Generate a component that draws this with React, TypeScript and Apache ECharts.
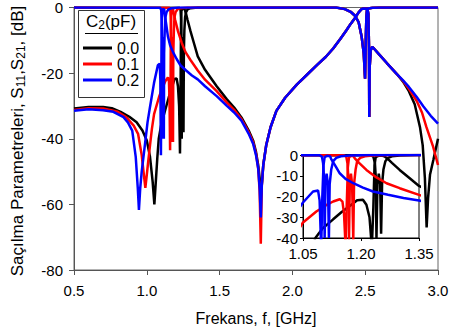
import React, { useEffect, useRef } from "react";
import * as echarts from "echarts";

type Pt = [number, number];

const FONT = "'Liberation Sans', Arial, sans-serif";

const capLabels = ["0.0", "0.1", "0.2"];
const capColors = ["#000000", "#ff0000", "#0000ff"];

// ---- S21 (transmission), per C2, low band and first passband ----
const s21C00Head: Pt[] = [
  [0.5, -30.8], [0.6, -30.3], [0.7, -30.3], [0.76, -30.7], [0.82, -31.8], [0.88, -33.3],
  [0.93, -35], [0.97, -37.5], [1.0, -40.5], [1.022, -45.5], [1.04, -53], [1.052, -60],
  [1.062, -53], [1.072, -46], [1.082, -40], [1.1, -35.5], [1.128, -31], [1.15, -27.5],
  [1.171, -24.6], [1.19, -21.8], [1.205, -21.6], [1.214, -24], [1.222, -30], [1.228, -44.5],
  [1.232, -25], [1.235, -5], [1.238, -1], [1.245, -0.4], [1.256, -0.4], [1.262, -0.8],
  [1.27, -2], [1.28, -3.8], [1.29, -5.5], [1.3, -7.2], [1.326, -11.2], [1.35, -14.9],
  [1.4, -19], [1.48, -24], [1.55, -28], [1.6, -30.5], [1.65, -33.5], [1.7, -37.5],
  [1.73, -40.5], [1.75, -44], [1.765, -48], [1.775, -52], [1.783, -58],
];
const s21C01Head: Pt[] = [
  [0.5, -31.2], [0.6, -30.7], [0.7, -30.8], [0.8, -31.8], [0.86, -33.5], [0.91, -36],
  [0.94, -38.5], [0.965, -45], [0.98, -51], [0.99, -55], [1.0, -51], [1.012, -46],
  [1.022, -42], [1.035, -37], [1.05, -32.5], [1.0845, -27.2], [1.11, -24.2], [1.128, -22.4],
  [1.145, -21.3], [1.152, -22.5], [1.156, -28], [1.16, -43.5], [1.163, -25], [1.166, -6],
  [1.169, -1], [1.175, -0.4], [1.18, -0.5], [1.184, -1.6], [1.195, -3.8], [1.214, -7.2],
  [1.24, -10.8], [1.266, -13.6], [1.3, -16], [1.35, -19.2], [1.4, -22], [1.48, -25.5],
  [1.55, -29], [1.6, -31.2], [1.65, -34], [1.7, -38], [1.73, -41], [1.75, -44.5],
  [1.765, -49], [1.775, -56], [1.783, -72],
];
const s21C02Head: Pt[] = [
  [0.5, -31.5], [0.6, -31], [0.7, -31.3], [0.77, -31.8], [0.84, -33.4], [0.87, -35],
  [0.9, -37.5], [0.924, -45.5], [0.938, -55], [0.946, -61.7], [0.955, -55], [0.965, -50],
  [0.988, -41.5], [1.005, -35], [1.022, -30.3], [1.05, -22.9], [1.076, -17.6], [1.089, -17.1],
  [1.093, -22], [1.097, -45], [1.1, -20], [1.103, -5], [1.106, -1], [1.112, -0.4],
  [1.12, -0.6], [1.123, -2], [1.133, -5], [1.145, -8.8], [1.16, -11.5], [1.18, -13.6],
  [1.205, -15.7], [1.231, -17.6], [1.27, -19.2], [1.31, -20.7], [1.35, -21.9], [1.4, -24],
  [1.48, -27], [1.55, -30], [1.6, -32], [1.65, -34.5], [1.7, -38.5], [1.73, -41.5],
  [1.75, -45], [1.765, -49], [1.775, -55], [1.783, -64],
];
// shared middle part (identical for all C2)
const s21Mid: Pt[] = [
  [1.79, -54], [1.8, -48], [1.82, -42], [1.85, -36.5], [1.89, -31.5], [1.95, -27.5],
  [2.03, -23.5], [2.1, -20.5], [2.17, -17.5], [2.23, -15], [2.28, -12.5], [2.33, -9.5],
  [2.37, -7], [2.4, -5], [2.43, -3.2], [2.455, -1.5], [2.475, -0.5], [2.49, -0.3],
  [2.515, -0.4], [2.522, -2], [2.526, -12], [2.528, -33.4], [2.531, -18], [2.538, -13],
  [2.548, -12], [2.56, -12.5], [2.6, -14.5], [2.65, -17], [2.716, -20.2],
];
const s21C00Tail: Pt[] = [
  [2.76, -22.6], [2.8, -25.5], [2.84, -29.5], [2.876, -36.4], [2.895, -42], [2.91, -52],
  [2.922, -67], [2.932, -58], [2.945, -51], [2.968, -46.5], [3.0, -40],
];
const s21C01Tail: Pt[] = [
  [2.76, -22.4], [2.8, -24.8], [2.854, -28.5], [2.89, -32], [2.92, -36.4], [2.967, -42.5], [3.0, -48],
];
const s21C02Tail: Pt[] = [
  [2.76, -22.2], [2.8, -24.2], [2.854, -27.3], [2.9, -30.2], [2.95, -33], [3.0, -35.4],
];

// ---- S11 (reflection) ----
const s11C00Band1: Pt[] = [
  [0.5, 0], [1.225, -0.1], [1.232, -0.8], [1.236, -4], [1.238, -10], [1.24, -40],
  [1.2425, -14], [1.246, -9], [1.2495, -14], [1.252, -38], [1.2545, -14], [1.258, -7],
  [1.263, -3], [1.27, -1.4], [1.28, -0.6], [1.3, -0.2], [1.35, 0],
];
const s11C01Band1: Pt[] = [
  [0.5, 0], [1.155, -0.1], [1.162, -0.8], [1.165, -4], [1.167, -10], [1.169, -41],
  [1.171, -14], [1.174, -9], [1.177, -14], [1.18, -41], [1.182, -14], [1.186, -7],
  [1.19, -3], [1.198, -1.4], [1.21, -0.6], [1.23, -0.2], [1.28, 0],
];
const s11C02Band1: Pt[] = [
  [0.5, 0], [1.092, -0.1], [1.099, -0.8], [1.102, -4], [1.104, -10], [1.106, -40],
  [1.108, -14], [1.111, -9], [1.1145, -14], [1.117, -40], [1.119, -14], [1.123, -7],
  [1.128, -3], [1.136, -1.4], [1.148, -0.6], [1.17, -0.2], [1.22, 0],
];
const s11Band2: Pt[] = [
  [2.3, 0], [2.36, -0.5], [2.4, -1.3], [2.43, -2.5], [2.455, -4.5], [2.476, -9],
  [2.49, -14], [2.499, -21.7], [2.504, -10], [2.508, -3], [2.512, -0.8], [2.52, -0.3],
  [2.55, -0.1], [2.6, 0], [3.0, 0],
];

const s21Curves: Pt[][] = [
  [...s21C00Head, ...s21Mid, ...s21C00Tail],
  [...s21C01Head, ...s21Mid, ...s21C01Tail],
  [...s21C02Head, ...s21Mid, ...s21C02Tail],
];
const s11Curves: Pt[][] = [
  [...s11C00Band1, ...s11Band2],
  [...s11C01Band1, ...s11Band2],
  [...s11C02Band1, ...s11Band2],
];

function buildSeries(axisIdx: number) {
  const out: any[] = [];
  for (let i = 0; i < capLabels.length; i++) {
    for (const data of [s11Curves[i], s21Curves[i]]) {
      out.push({
        type: "line",
        name: capLabels[i],
        xAxisIndex: axisIdx,
        yAxisIndex: axisIdx,
        data,
        showSymbol: false,
        symbol: "none",
        clip: true,
        lineStyle: { color: capColors[i], width: 2.5 },
        itemStyle: { color: capColors[i] },
        z: 2 + axisIdx * 10,
      });
    }
  }
  return out;
}

export default function App() {
  const ref = useRef<HTMLDivElement>(null);
  useEffect(() => {
    if (!ref.current) return;
    const chart = echarts.init(ref.current, undefined, { renderer: "svg" });
    const axisCommon = {
      type: "value" as const,
      splitLine: { show: false },
    };
    chart.setOption({
      animation: false,
      backgroundColor: "#ffffff",
      textStyle: { fontFamily: FONT },
      grid: [
        { left: 74, top: 7, width: 364, height: 263, show: true, borderColor: "#666", borderWidth: 1, backgroundColor: "transparent" },
        { left: 303, top: 155, width: 116, height: 83, show: true, borderColor: "#000", borderWidth: 1, backgroundColor: "#ffffff", z: 10 },
      ],
      xAxis: [
        {
          ...axisCommon,
          gridIndex: 0,
          min: 0.5,
          max: 3.0,
          interval: 0.5,
          axisLine: { show: true, onZero: false, lineStyle: { color: "#555", width: 1 } },
          axisTick: { show: true, inside: false, length: 5, lineStyle: { color: "#555" } },
          axisLabel: { formatter: (v: number) => v.toFixed(1), fontSize: 15, color: "#000", margin: 13, fontFamily: FONT },
          name: "Frekans, f, [GHz]",
          nameLocation: "middle",
          nameGap: 40,
          nameTextStyle: { fontSize: 16, color: "#000", fontFamily: FONT },
        },
        {
          ...axisCommon,
          gridIndex: 1,
          min: 1.05,
          max: 1.35,
          interval: 0.15,
          axisLine: { show: true, onZero: false, lineStyle: { color: "#000", width: 1 } },
          axisTick: { show: true, inside: false, length: 3, lineStyle: { color: "#000" } },
          axisLabel: { formatter: (v: number) => v.toFixed(2), fontSize: 15, color: "#000", margin: 8, fontFamily: FONT },
          z: 10,
        },
      ],
      yAxis: [
        {
          ...axisCommon,
          gridIndex: 0,
          min: -80,
          max: 0,
          interval: 20,
          axisLine: { show: true, onZero: false, lineStyle: { color: "#555", width: 1 } },
          axisTick: { show: true, inside: false, length: 5, lineStyle: { color: "#555" } },
          axisLabel: { fontSize: 15, color: "#000", margin: 11, fontFamily: FONT },
        },
        {
          ...axisCommon,
          gridIndex: 1,
          min: -40,
          max: 0,
          interval: 10,
          axisLine: { show: true, onZero: false, lineStyle: { color: "#000", width: 1 } },
          axisTick: { show: true, inside: false, length: 3, lineStyle: { color: "#000" } },
          axisLabel: { fontSize: 15, color: "#000", margin: 5, fontFamily: FONT },
          z: 10,
        },
      ],
      legend: {
        data: capLabels.map((n) => ({ name: n, icon: "rect" })),
        orient: "vertical",
        left: 83,
        top: 40,
        padding: 0,
        itemWidth: 29,
        itemHeight: 3,
        itemGap: 0,
        selectedMode: false,
        textStyle: { fontSize: 16, color: "#000", fontFamily: FONT, lineHeight: 16 },
        z: 20,
      },
      graphic: [
        {
          type: "rect",
          z: 15,
          shape: { x: 78.5, y: 10.5, width: 66, height: 87 },
          style: { fill: "transparent", stroke: "#333", lineWidth: 1 },
        },
        {
          type: "text",
          z: 16,
          x: 111,
          y: 21,
          style: {
            text: "{n|C}{s|2}{n|(pF)}",
            align: "center",
            verticalAlign: "middle",
            fill: "#000",
            rich: {
              n: { fontSize: 17, fontFamily: FONT, lineHeight: 20, verticalAlign: "middle" },
              s: { fontSize: 12, fontFamily: FONT, lineHeight: 12, verticalAlign: "bottom" },
            },
          },
        },
        {
          type: "line",
          z: 16,
          shape: { x1: 85, y1: 33.5, x2: 138, y2: 33.5 },
          style: { stroke: "#000", lineWidth: 1 },
        },
        {
          type: "text",
          z: 16,
          x: 17,
          y: 141,
          rotation: Math.PI / 2,
          style: {
            text: "{n|Saçılma Parametreleri, S}{s|11}{n|,S}{s|21}{n|, [dB]}",
            align: "center",
            verticalAlign: "middle",
            fill: "#000",
            rich: {
              n: { fontSize: 17, fontFamily: FONT, lineHeight: 20, verticalAlign: "middle" },
              s: { fontSize: 12, fontFamily: FONT, lineHeight: 12, verticalAlign: "bottom" },
            },
          },
        },
      ],
      series: [...buildSeries(0), ...buildSeries(1)],
    });
    return () => chart.dispose();
  }, []);
  return (
    <div
      ref={ref}
      style={{ position: "fixed", left: 0, top: 0, width: 452, height: 335, background: "#fff" }}
    />
  );
}
